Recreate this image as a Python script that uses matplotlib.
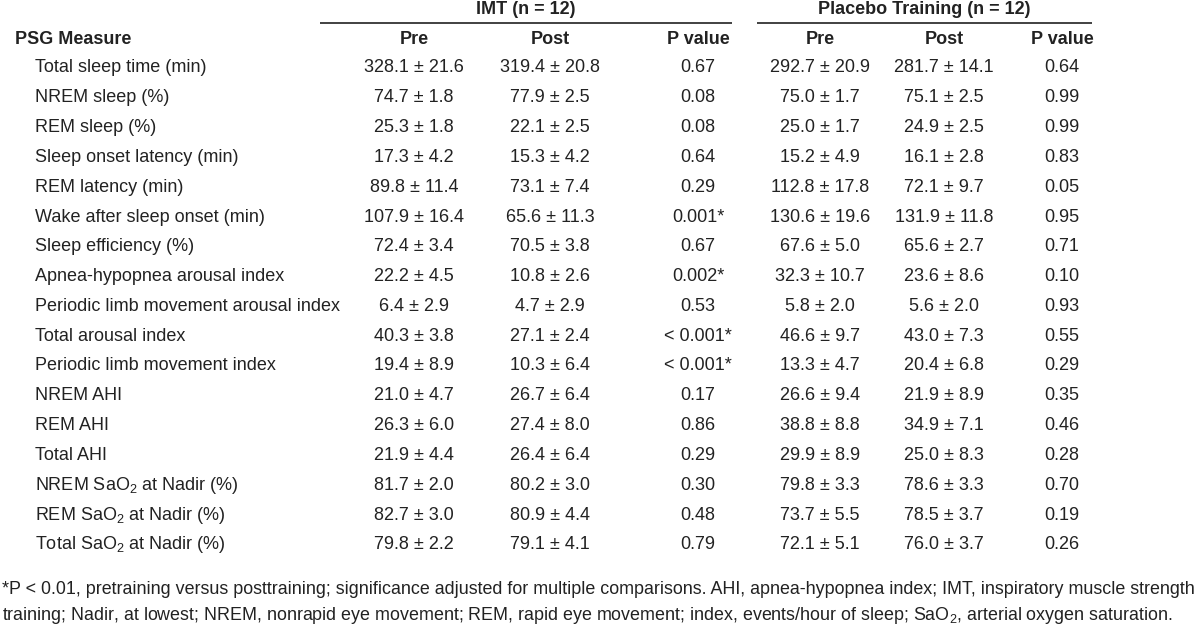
import matplotlib
matplotlib.use("Agg")
import matplotlib.pyplot as plt
from matplotlib import font_manager

# table contents
measures = ["Total sleep time (min)", "NREM sleep (%)", "REM sleep (%)",
            "Sleep onset latency (min)", "REM latency (min)",
            "Wake after sleep onset (min)", "Sleep efficiency (%)",
            "Apnea-hypopnea arousal index", "Periodic limb movement arousal index",
            "Total arousal index", "Periodic limb movement index",
            "NREM AHI", "REM AHI", "Total AHI",
            r"NREM SaO$_\mathregular{2}$ at Nadir (%)",
            r"REM SaO$_\mathregular{2}$ at Nadir (%)",
            r"Total SaO$_\mathregular{2}$ at Nadir (%)"]

imt_pre_mean = [328.1, 74.7, 25.3, 17.3, 89.8, 107.9, 72.4, 22.2, 6.4, 40.3, 19.4, 21.0, 26.3, 21.9, 81.7, 82.7, 79.8]
imt_pre_sd = [21.6, 1.8, 1.8, 4.2, 11.4, 16.4, 3.4, 4.5, 2.9, 3.8, 8.9, 4.7, 6.0, 4.4, 2.0, 3.0, 2.2]
imt_post_mean = [319.4, 77.9, 22.1, 15.3, 73.1, 65.6, 70.5, 10.8, 4.7, 27.1, 10.3, 26.7, 27.4, 26.4, 80.2, 80.9, 79.1]
imt_post_sd = [20.8, 2.5, 2.5, 4.2, 7.4, 11.3, 3.8, 2.6, 2.9, 2.4, 6.4, 6.4, 8.0, 6.4, 3.0, 4.4, 4.1]
imt_p = ["0.67", "0.08", "0.08", "0.64", "0.29", "0.001*", "0.67", "0.002*", "0.53",
         "< 0.001*", "< 0.001*", "0.17", "0.86", "0.29", "0.30", "0.48", "0.79"]

pl_pre_mean = [292.7, 75.0, 25.0, 15.2, 112.8, 130.6, 67.6, 32.3, 5.8, 46.6, 13.3, 26.6, 38.8, 29.9, 79.8, 73.7, 72.1]
pl_pre_sd = [20.9, 1.7, 1.7, 4.9, 17.8, 19.6, 5.0, 10.7, 2.0, 9.7, 4.7, 9.4, 8.8, 8.9, 3.3, 5.5, 5.1]
pl_post_mean = [281.7, 75.1, 24.9, 16.1, 72.1, 131.9, 65.6, 23.6, 5.6, 43.0, 20.4, 21.9, 34.9, 25.0, 78.6, 78.5, 76.0]
pl_post_sd = [14.1, 2.5, 2.5, 2.8, 9.7, 11.8, 2.7, 8.6, 2.0, 7.3, 6.8, 8.9, 7.1, 8.3, 3.3, 3.7, 3.7]
pl_p = ["0.64", "0.99", "0.99", "0.83", "0.05", "0.95", "0.71", "0.10", "0.93",
        "0.55", "0.29", "0.35", "0.46", "0.28", "0.70", "0.19", "0.26"]

group_titles = ["IMT (n = 12)", "Placebo Training (n = 12)"]
col_titles = ["Pre", "Post", "P value"]

footnote = ["*P < 0.01, pretraining versus posttraining; significance adjusted for multiple "
            "comparisons. AHI, apnea-hypopnea index; IMT, inspiratory muscle strength",
            "training; Nadir, at lowest; NREM, nonrapid eye movement; REM, rapid eye movement; "
            r"index, events/hour of sleep; SaO$_\mathregular{2}$, arterial oxygen saturation."]

# font: a narrow sans if it is there
names = {f.name for f in font_manager.fontManager.ttflist}
fam = "Liberation Sans Narrow" if "Liberation Sans Narrow" in names else "Liberation Sans"
plt.rcParams["font.family"] = [fam, "DejaVu Sans"]
plt.rcParams["mathtext.fontset"] = "custom"
plt.rcParams["mathtext.rm"] = fam
plt.rcParams["mathtext.it"] = fam
plt.rcParams["mathtext.bf"] = fam + ":bold"

color = "#222222"
fs = 13

fig = plt.figure(figsize=(12, 6.32), dpi=100)
ax = fig.add_axes([0, 0, 1, 1])
ax.set_xlim(0, 1200)
ax.set_ylim(632, 0)
ax.axis("off")

col_x = [414, 550, 698, 820, 944, 1062]
groups = [(526, 320, 732), (924, 757, 1092)]

# group headers + rules
for (cx, x0, x1), title in zip(groups, group_titles):
    ax.text(cx, 10, title, ha="center", va="center", fontsize=fs, fontweight="bold", color=color)
    ax.plot([x0, x1], [23, 23], color="#333333", lw=1.3, solid_capstyle="butt")

ax.text(15, 40, "PSG Measure", ha="left", va="center", fontsize=fs, fontweight="bold", color=color)
for i, x in enumerate(col_x):
    ax.text(x, 40, col_titles[i % 3], ha="center", va="center", fontsize=fs, fontweight="bold", color=color)

row_y0 = 68
row_dy = 29.8
for i, m in enumerate(measures):
    y = row_y0 + i * row_dy
    ax.text(35, y, m, ha="left", va="center", fontsize=fs, color=color)
    cells = [f"{imt_pre_mean[i]:.1f} ± {imt_pre_sd[i]:.1f}",
             f"{imt_post_mean[i]:.1f} ± {imt_post_sd[i]:.1f}",
             imt_p[i],
             f"{pl_pre_mean[i]:.1f} ± {pl_pre_sd[i]:.1f}",
             f"{pl_post_mean[i]:.1f} ± {pl_post_sd[i]:.1f}",
             pl_p[i]]
    for x, c in zip(col_x, cells):
        ax.text(x, y, c, ha="center", va="center", fontsize=fs, color=color)

for j, line in enumerate(footnote):
    ax.text(2, 590 + j * 25, line, ha="left", va="center", fontsize=12.88, color=color)

fig.savefig("out.png", dpi=100)
